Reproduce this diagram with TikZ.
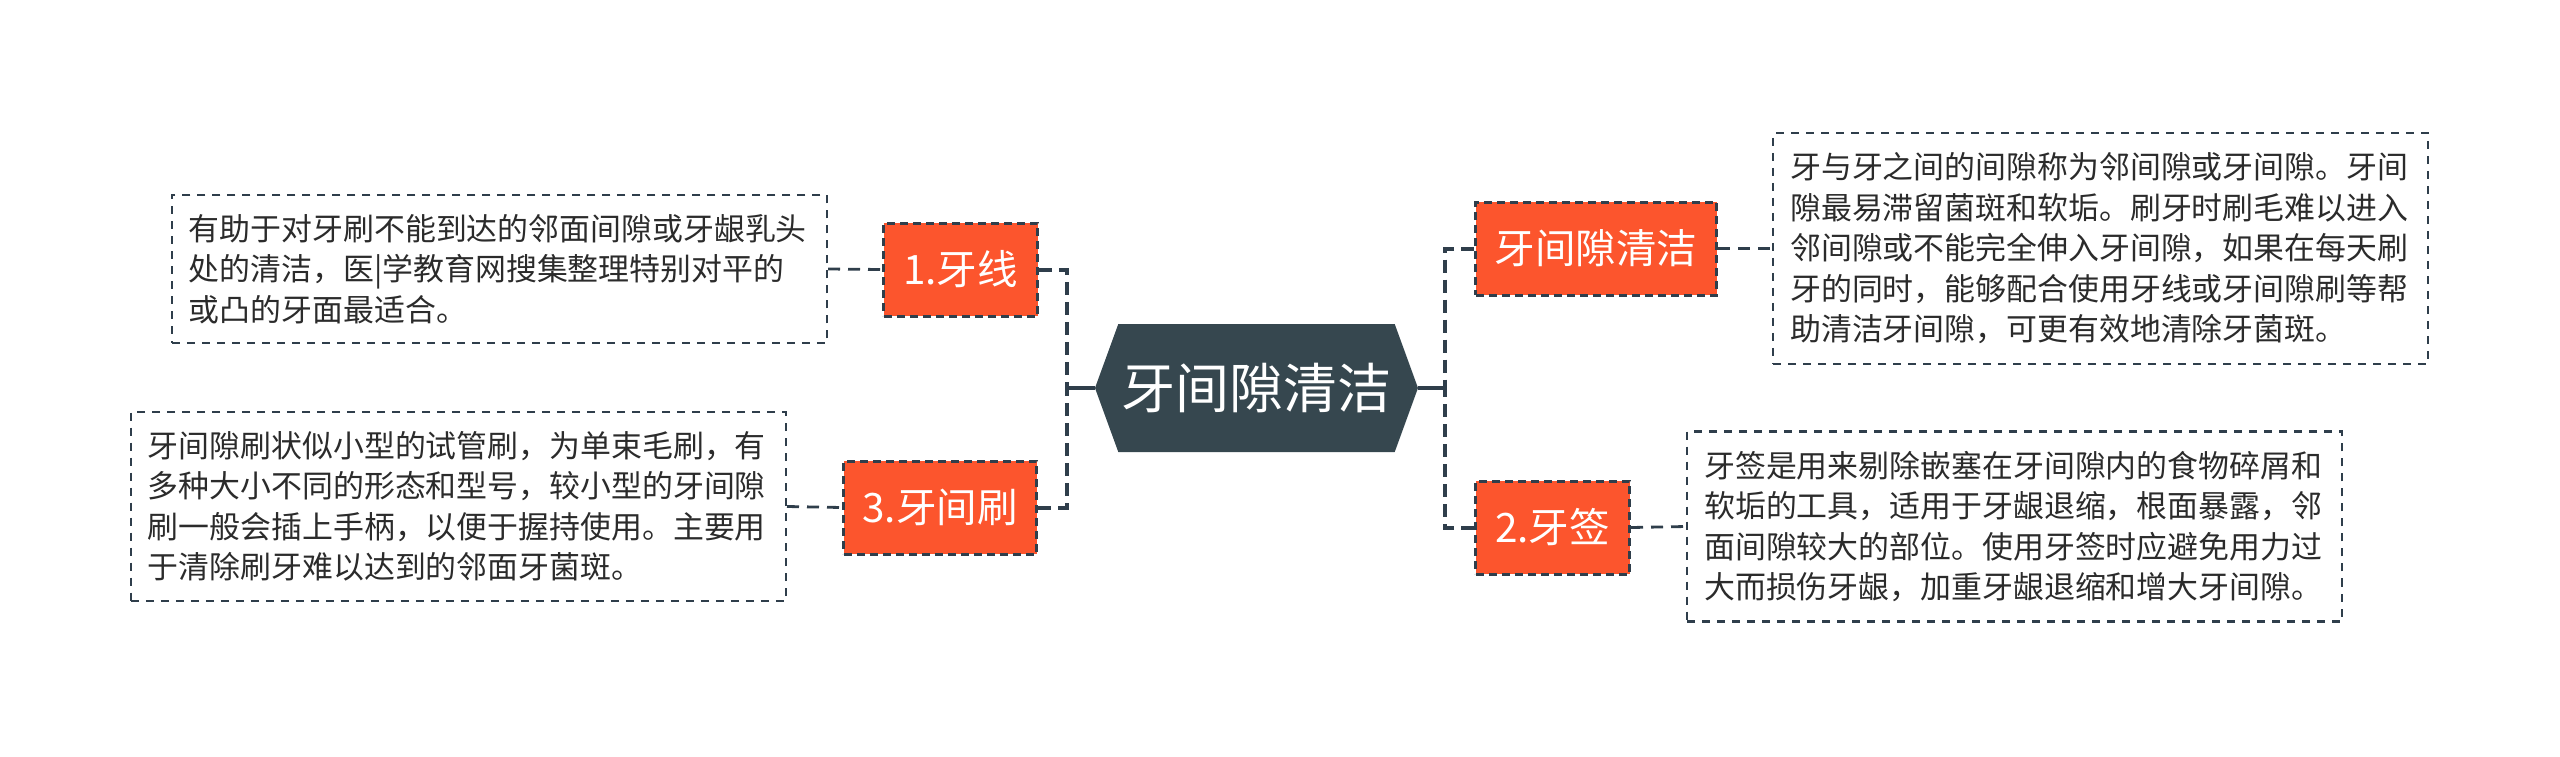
\documentclass[tikz,border=0pt]{standalone}
\usepackage{fontspec}
\setmainfont{Noto Sans CJK SC}
\usetikzlibrary{shapes.symbols}

\definecolor{hexfill}{HTML}{36474F}
\definecolor{boxfill}{HTML}{FC552D}
\definecolor{linecol}{HTML}{2F3E4B}
\definecolor{notetext}{HTML}{2B2B2B}
\hfuzz=60pt

\begin{document}
\begin{tikzpicture}[x=1pt, y=-1pt, line cap=butt,
  rootnode/.style={shape=signal, signal to=west and east, signal pointer angle=140,
    fill=hexfill, text=white, minimum width=323pt, minimum height=128pt, inner sep=0pt,
    font=\fontsize{54}{60}\selectfont},
  branchnode/.style={fill=boxfill, draw=linecol, line width=3pt, dash pattern=on 8pt off 5pt,
    text=white, minimum height=93pt, inner xsep=0pt, font=\fontsize{40.5}{48}\selectfont},
  notenode/.style={draw=linecol, line width=2.4pt, dash pattern=on 8pt off 7pt, text=notetext,
    text width=621pt, inner xsep=17pt, inner ysep=19.5pt, align=left,
    font=\fontsize{30.9}{40.5}\selectfont},
  tree/.style={draw=linecol, line width=4pt, dash pattern=on 13pt off 7pt},
  stub/.style={draw=linecol, line width=4pt},
  link/.style={draw=linecol, line width=2.8pt, dash pattern=on 12pt off 8pt}]

  %% ════ 中心主题 ════
  \node[rootnode] (root) at (1256.5,388) {牙间隙清洁};

  %% ════ 分支（左：1、3；右：清洁、2）════
  \node[branchnode, anchor=east, minimum width=154pt] (floss) at (1039,269.5) {1.牙线};
  \node[branchnode, anchor=east, minimum width=193pt] (brush) at (1038,507.5) {3.牙间刷};
  \node[branchnode, anchor=west, minimum width=241pt] (clean) at (1474,248.5) {牙间隙清洁};
  \node[branchnode, anchor=west, minimum width=154pt] (pick) at (1474,527.5) {2.牙签};

  %% ════ 说明框 ════
  \node[notenode, anchor=east] (floss note) at (828,269) {%
    有助于对牙刷不能到达的邻面间隙或牙龈乳头\\
    处的清洁，医|学教育网搜集整理特别对平的\\
    或凸的牙面最适合。};
  \node[notenode, anchor=east] (brush note) at (787,506.5) {%
    牙间隙刷状似小型的试管刷，为单束毛刷，有\\
    多种大小不同的形态和型号，较小型的牙间隙\\
    刷一般会插上手柄，以便于握持使用。主要用\\
    于清除刷牙难以达到的邻面牙菌斑。};
  \node[notenode, anchor=west] (clean note) at (1772,248.5) {%
    牙与牙之间的间隙称为邻间隙或牙间隙。牙间\\
    隙最易滞留菌斑和软垢。刷牙时刷毛难以进入\\
    邻间隙或不能完全伸入牙间隙，如果在每天刷\\
    牙的同时，能够配合使用牙线或牙间隙刷等帮\\
    助清洁牙间隙，可更有效地清除牙菌斑。};
  \node[notenode, anchor=west] (pick note) at (1686,526.5) {%
    牙签是用来剔除嵌塞在牙间隙内的食物碎屑和\\
    软垢的工具，适用于牙龈退缩，根面暴露，邻\\
    面间隙较大的部位。使用牙签时应避免用力过\\
    大而损伤牙龈，加重牙龈退缩和增大牙间隙。};

  %% ════ 连线 ════
  \coordinate (left hub) at (1066.5,388);
  \coordinate (right hub) at (1445,388);
  \draw[stub] (root.west) -- (left hub);
  \draw[stub] (root.east) -- (right hub);
  \draw[tree] (floss.east) -| (left hub);
  \draw[tree] (brush.east) -| (left hub);
  \draw[tree] (clean.west) -| (right hub);
  \draw[tree] (pick.west) -| (right hub);
  \draw[link] (floss note.east) -- (floss.west);
  \draw[link] (brush note.east) -- (brush.west);
  \draw[link] (clean.east) -- (clean note.west);
  \draw[link] (pick.east) -- (pick note.west);

  % 钉死画布
  \pgfresetboundingbox
  \path[use as bounding box] (0,0) rectangle (2560,756);
\end{tikzpicture}
\end{document}
